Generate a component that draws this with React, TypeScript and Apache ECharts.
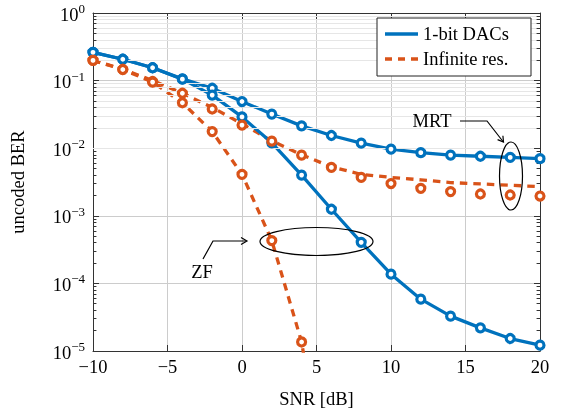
import React, { useEffect, useRef } from "react";
import * as echarts from "echarts";

const SNR = [-10, -8, -6, -4, -2, 0, 2, 4, 6, 8, 10, 12, 14, 16, 18, 20];
const MRT_1BIT = [0.262, 0.207, 0.155, 0.106, 0.077, 0.049, 0.032, 0.0214, 0.0154, 0.0119, 0.0097, 0.0086, 0.0079, 0.0076, 0.0073, 0.007];
const ZF_1BIT = [0.262, 0.207, 0.155, 0.105, 0.061, 0.029, 0.012, 0.004, 0.00125, 0.000405, 0.000137, 0.0000585, 0.0000328, 0.000022, 0.0000153, 0.0000122];
const MRT_INF_SIM = [0.199, 0.146, 0.097, 0.065, 0.038, 0.022, 0.0127, 0.0079, 0.0052, 0.0037, 0.003, 0.00255, 0.00228, 0.0021, 0.00203, 0.00196];
const MRT_INF_LINE = [0.199, 0.148, 0.1, 0.065, 0.04, 0.023, 0.0128, 0.008, 0.0053, 0.0041, 0.0037, 0.0034, 0.0031, 0.00296, 0.00283, 0.0027];
const SNR_ZF_INF = [-10, -8, -6, -4, -2, 0, 2, 4];
const ZF_INF_SIM = [0.199, 0.146, 0.095, 0.047, 0.0176, 0.0041, 0.00043, 0.0000136];
const SNR_ZF_INF_LINE = [-10, -8, -6, -4, -2, 0, 2, 4, 6];
const ZF_INF_LINE = [0.199, 0.146, 0.095, 0.047, 0.0176, 0.0041, 0.00043, 0.0000136, 0.00000003];
const X_TICKS = [-10, -5, 0, 5, 10, 15, 20];
const DECADES = [0.00001, 0.0001, 0.001, 0.01, 0.1];
const MINOR_MULT = [2, 3, 4, 5, 6, 7, 8, 9];

const BLUE = "#0072BD";
const ORANGE = "#D95319";
const FONT = "Liberation Serif";

const pairs = (xs: number[], ys: number[]) => xs.map((x, i) => [x, ys[i]]);

export default function App() {
  const ref = useRef<HTMLDivElement>(null);
  useEffect(() => {
    document.body.style.margin = "0";
    const chart = echarts.init(ref.current!, undefined, { renderer: "svg" });
    const minorVals: number[] = [];
    DECADES.forEach((d) => MINOR_MULT.forEach((m) => minorVals.push(d * m)));
    const majorVals = [...DECADES, 1];

    const markerSeries = (name: string, xs: number[], ys: number[], color: string) => ({
      type: "scatter",
      name,
      data: pairs(xs, ys),
      symbol: "circle",
      symbolSize: 8,
      itemStyle: { color: "#fff", borderColor: color, borderWidth: 3.2, opacity: 1 },
      z: 5,
      silent: true,
    });

    const option: any = {
      animation: false,
      grid: { left: 90, right: 22, top: 13, bottom: 63, containLabel: false },
      legend: {
        data: [
          { name: "1-bit DACs", icon: "path://M0,0H33V3.3H0Z" },
          { name: "Infinite res.", icon: "path://M0,0H7V3.3H0Z M13,0H20V3.3H13Z M26,0H33V3.3H26Z" },
        ],
        orient: "vertical",
        left: 377,
        top: 18,
        padding: [6, 10, 7, 8],
        itemGap: 5,
        itemWidth: 33,
        itemHeight: 3.3,
        backgroundColor: "#fff",
        borderColor: "#222",
        borderWidth: 1,
        borderRadius: 0,
        textStyle: { fontFamily: FONT, fontSize: 18.5, color: "#000", lineHeight: 20, width: 98 },
        selectedMode: false,
        z: 10,
      },
      xAxis: [
        {
          type: "value",
          min: -10,
          max: 20,
          interval: 5,
          name: "SNR [dB]",
          nameLocation: "middle",
          nameGap: 38,
          nameTextStyle: { fontFamily: FONT, fontSize: 18.5, color: "#000" },
          axisLine: { show: true, onZero: false, lineStyle: { color: "#333", width: 1 } },
          axisTick: { show: true, inside: true, length: 6, lineStyle: { color: "#333" } },
          axisLabel: {
            fontFamily: FONT,
            fontSize: 18.5,
            color: "#000",
            margin: 6,
            formatter: (v: number) => (X_TICKS.includes(v) ? String(v).replace("-", "\u2212") : ""),
          },
          splitLine: { show: true, lineStyle: { color: "#cccccc", width: 1 } },
        },
        {
          type: "value",
          position: "top",
          min: -10,
          max: 20,
          interval: 5,
          axisLine: { show: true, onZero: false, lineStyle: { color: "#333", width: 1 } },
          axisTick: { show: true, inside: true, length: 6, lineStyle: { color: "#333" } },
          axisLabel: { show: false },
          splitLine: { show: false },
        },
      ],
      yAxis: [
        {
          type: "log",
          logBase: 10,
          min: 0.00001,
          max: 1,
          splitNumber: 5,
          name: "uncoded BER",
          nameLocation: "middle",
          nameGap: 66,
          nameRotate: 90,
          nameTextStyle: { fontFamily: FONT, fontSize: 18.5, color: "#000" },
          axisLine: { show: true, onZero: false, lineStyle: { color: "#333", width: 1 } },
          axisTick: { show: true, inside: true, length: 6, lineStyle: { color: "#333" } },
          axisLabel: {
            margin: 8,
            formatter: (v: number) => {
              const e = Math.round(Math.log10(v));
              return `{b|10}{s|${e < 0 ? "\u2212" : ""}${Math.abs(e)}}`;
            },
            rich: {
              b: { fontFamily: FONT, fontSize: 18.5, color: "#000", lineHeight: 22, verticalAlign: "bottom" },
              s: { fontFamily: FONT, fontSize: 13, color: "#000", verticalAlign: "top", lineHeight: 22 },
            },
          },
          splitLine: { show: true, lineStyle: { color: "#cccccc", width: 1 } },
        },
        {
          type: "log",
          logBase: 10,
          position: "right",
          min: 0.00001,
          max: 1,
          splitNumber: 5,
          axisLine: { show: true, onZero: false, lineStyle: { color: "#333", width: 1 } },
          axisTick: { show: true, inside: true, length: 6, lineStyle: { color: "#333" } },
          axisLabel: { show: false },
          splitLine: { show: false },
        },
      ],
      series: [
        {
          type: "line",
          name: "minor-grid",
          data: [],
          symbol: "none",
          silent: true,
          z: 1,
          markLine: {
            silent: true,
            symbol: "none",
            label: { show: false },
            animation: false,
            lineStyle: { color: "#e6e6e6", width: 1, type: "solid" },
            data: minorVals.map((v) => ({ yAxis: v })),
          },
        },
        {
          type: "line",
          name: "minor-ticks",
          data: [],
          symbol: "none",
          silent: true,
          z: 2,
          markLine: {
            silent: true,
            symbol: "none",
            label: { show: false },
            animation: false,
            lineStyle: { color: "#333", width: 1, type: "solid" },
            data: [
              ...minorVals.map((v) => [{ coord: [-10, v] }, { coord: [-9.77, v] }]),
              ...minorVals.map((v) => [{ coord: [19.77, v] }, { coord: [20, v] }]),
              ...majorVals.map((v) => [{ coord: [19.6, v] }, { coord: [20, v] }]),
            ],
          },
        },
        {
          type: "line",
          name: "1-bit DACs",
          data: pairs(SNR, MRT_1BIT),
          symbol: "none",
          lineStyle: { color: BLUE, width: 3.3 },
          itemStyle: { color: BLUE },
          z: 4,
        },
        {
          type: "line",
          name: "1-bit DACs",
          data: pairs(SNR, ZF_1BIT),
          symbol: "none",
          lineStyle: { color: BLUE, width: 3.3 },
          itemStyle: { color: BLUE },
          z: 4,
        },
        {
          type: "line",
          name: "Infinite res.",
          data: pairs(SNR, MRT_INF_LINE),
          symbol: "none",
          lineStyle: { color: ORANGE, width: 3.3, type: [7.5, 6] },
          itemStyle: { color: ORANGE },
          z: 3,
        },
        {
          type: "line",
          name: "Infinite res.",
          data: pairs(SNR_ZF_INF_LINE, ZF_INF_LINE),
          symbol: "none",
          clip: true,
          lineStyle: { color: ORANGE, width: 3.3, type: [7.5, 6] },
          itemStyle: { color: ORANGE },
          z: 3,
        },
        markerSeries("MRT 1-bit sim", SNR, MRT_1BIT, BLUE),
        markerSeries("ZF 1-bit sim", SNR, ZF_1BIT, BLUE),
        markerSeries("MRT inf sim", SNR, MRT_INF_SIM, ORANGE),
        markerSeries("ZF inf sim", SNR_ZF_INF, ZF_INF_SIM, ORANGE),
      ],
      graphic: [
        {
          type: "ellipse",
          shape: { cx: 316.5, cy: 241.5, rx: 56.5, ry: 14 },
          style: { fill: "none", stroke: "#000", lineWidth: 1.2 },
          z: 20,
        },
        {
          type: "ellipse",
          shape: { cx: 511, cy: 176, rx: 11.5, ry: 34 },
          style: { fill: "none", stroke: "#000", lineWidth: 1.2 },
          z: 20,
        },
        {
          type: "polyline",
          shape: { points: [[203, 259], [213, 241], [246, 241]] },
          style: { fill: "none", stroke: "#000", lineWidth: 1.2 },
          z: 20,
        },
        {
          type: "polyline",
          shape: { points: [[241, 237.5], [247, 241], [241, 244.5]] },
          style: { fill: "none", stroke: "#000", lineWidth: 1.2 },
          z: 20,
        },
        {
          type: "polyline",
          shape: { points: [[460, 121], [487, 121], [503, 141.5]] },
          style: { fill: "none", stroke: "#000", lineWidth: 1.2 },
          z: 20,
        },
        {
          type: "polyline",
          shape: { points: [[497.6, 139.6], [503.5, 142], [502.9, 135.7]] },
          style: { fill: "none", stroke: "#000", lineWidth: 1.2 },
          z: 20,
        },
        {
          type: "text",
          x: 432,
          y: 121,
          style: { text: "MRT", fontFamily: FONT, fontSize: 18.5, fill: "#000", align: "center", verticalAlign: "middle" },
          z: 20,
        },
        {
          type: "text",
          x: 202,
          y: 272,
          style: { text: "ZF", fontFamily: FONT, fontSize: 18.5, fill: "#000", align: "center", verticalAlign: "middle" },
          z: 20,
        },
      ],
    };
    chart.setOption(option);
    return () => chart.dispose();
  }, []);
  return <div ref={ref} style={{ position: "fixed", left: 0, top: 0, width: 562, height: 414 }} />;
}
